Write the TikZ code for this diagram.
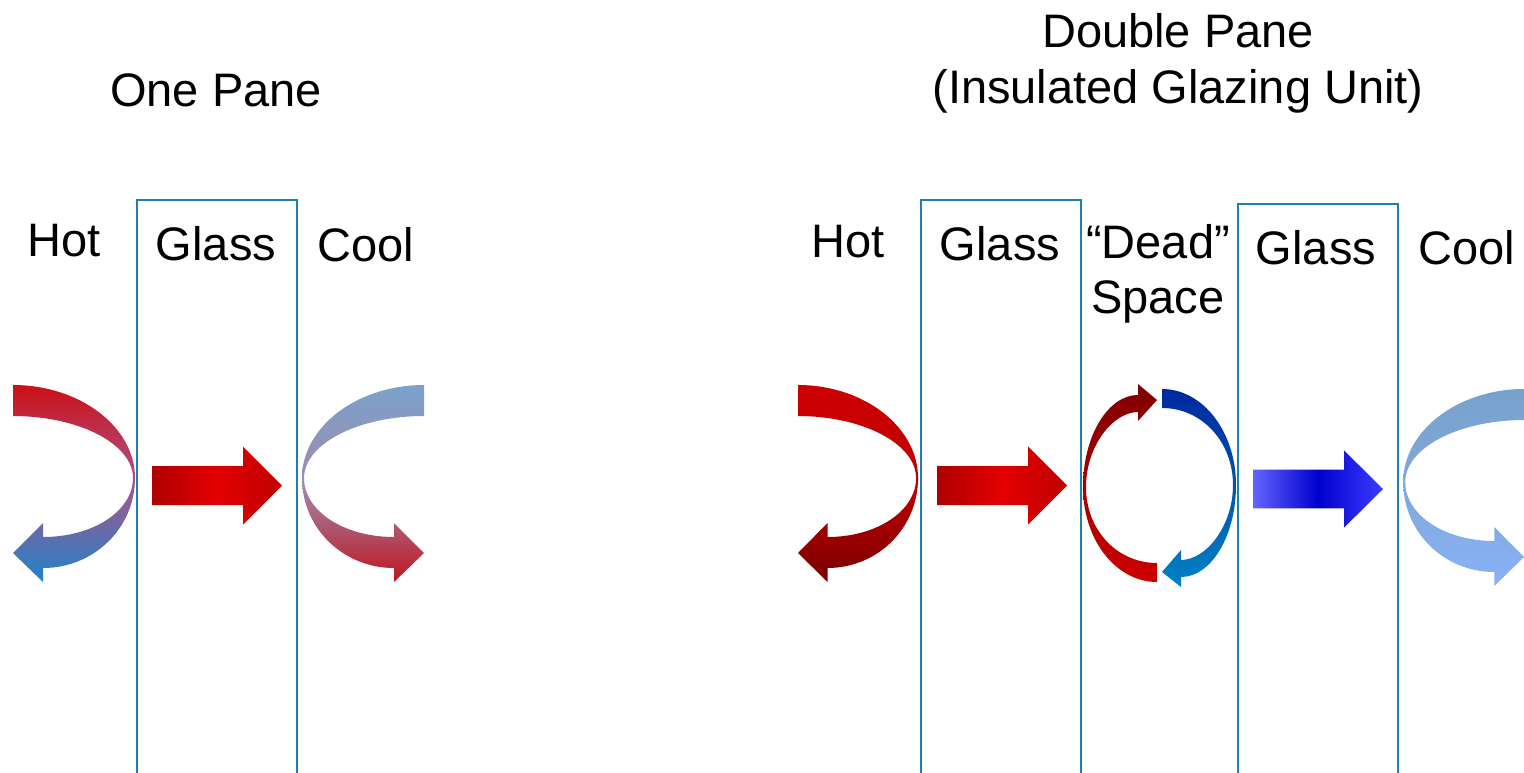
\documentclass[tikz,border=0pt]{standalone}
\usepackage{fontspec}
\setmainfont{Liberation Sans}
\definecolor{boxcol}{RGB}{30,128,176}
\definecolor{hotA}{RGB}{205,16,24}
\definecolor{hotB}{RGB}{168,84,140}
\definecolor{hotC}{RGB}{30,132,200}
\definecolor{coolA}{RGB}{122,162,204}
\definecolor{coolB}{RGB}{160,138,172}
\definecolor{coolC}{RGB}{192,20,32}
\definecolor{redA}{RGB}{205,0,0}
\definecolor{redB}{RGB}{190,0,0}
\definecolor{redC}{RGB}{122,0,0}
\definecolor{skyA}{RGB}{120,162,204}
\definecolor{skyB}{RGB}{128,168,220}
\definecolor{skyC}{RGB}{137,178,248}
\definecolor{srA}{RGB}{175,0,0}
\definecolor{srB}{RGB}{226,0,0}
\definecolor{srC}{RGB}{192,0,0}
\definecolor{sbA}{RGB}{100,100,255}
\definecolor{sbB}{RGB}{0,0,205}
\definecolor{sbC}{RGB}{60,60,255}
\definecolor{dsRedTop}{RGB}{128,0,0}
\definecolor{dsRedBot}{RGB}{204,0,0}
\definecolor{dsBlueTop}{RGB}{0,40,160}
\definecolor{dsBlueBot}{RGB}{0,130,195}
\newcommand\myuturn[1]{\shade[#1] (0,0) .. controls (67,0) and (122,-42) .. (122,-93)
  .. controls (122,-143) and (81,-183) .. (30,-183) -- (30,-197) -- (0,-168) -- (30,-138) -- (30,-152)
  .. controls (80,-152) and (120,-126) .. (120,-93) .. controls (120,-59) and (66,-31) .. (0,-31) -- cycle;}
\newcommand\mystraight[1]{\shade[#1] (0,19.5) -- (91,19.5) -- (91,39) -- (130,0) -- (91,-39) -- (91,-19.5) -- (0,-19.5) -- cycle;}
\tikzset{
  lbl/.style={inner sep=0pt, anchor=base, font=\fontsize{47}{56}\selectfont},
  glassbox/.style={draw=boxcol, line width=2pt}
}
\begin{document}
\begin{tikzpicture}[x=1pt,y=1pt]
\useasboundingbox (0,0) rectangle (1524,-772);
% boxes
\draw[glassbox] (137,-780) -- (137,-200) -- (297,-200) -- (297,-780);
\draw[glassbox] (921,-780) -- (921,-200) -- (1081,-200) -- (1081,-780);
\draw[glassbox] (1238,-780) -- (1238,-204) -- (1398,-204) -- (1398,-780);
% titles
\node[lbl] (t1) at (216,-106) {One Pane};
\node[lbl] (t2) at (1178,-47) {Double Pane};
\node[lbl] (t3) at (1178,-103) {(Insulated Glazing Unit)};
% labels one pane
\node[lbl] (hot1) at (64,-256) {Hot};
\node[lbl] (gl1) at (216,-260) {Glass};
\node[lbl] (cool1) at (366,-261) {Cool};
% labels double pane
\node[lbl] (hot2) at (848,-257) {Hot};
\node[lbl] (gl2) at (1000,-260) {Glass};
\node[lbl] (dead) at (1158,-258) {“Dead”};
\node[lbl] (space) at (1158,-313) {Space};
\node[lbl] (gl3) at (1316,-264) {Glass};
\node[lbl] (cool2) at (1467,-264) {Cool};
% curved arrows
\begin{scope}[shift={(13,-385)}]
  \myuturn{top color=hotA, bottom color=hotC, middle color=hotB}
\end{scope}
\begin{scope}[shift={(424,-385)}, xscale=-1]
  \myuturn{top color=coolA, bottom color=coolC, middle color=coolB}
\end{scope}
\begin{scope}[shift={(798,-385)}, xscale=0.984]
  \myuturn{top color=redA, bottom color=redC, middle color=redB}
\end{scope}
\begin{scope}[shift={(1524,-389)}, xscale=-0.99]
  \myuturn{top color=skyA, bottom color=skyC, middle color=skyB}
\end{scope}
% straight arrows
\begin{scope}[shift={(152,-485.5)}]
  \mystraight{left color=srA, right color=srC, middle color=srB}
\end{scope}
\begin{scope}[shift={(937,-485.5)}]
  \mystraight{left color=srA, right color=srC, middle color=srB}
\end{scope}
\begin{scope}[shift={(1253,-489)}, yscale=0.99]
  \mystraight{left color=sbA, right color=sbC, middle color=sbB}
\end{scope}
% dead space circulation
\shade[top color=dsRedTop, bottom color=dsRedBot]
  (1157,-582) .. controls (1116,-582) and (1083,-540) .. (1083,-487)
  .. controls (1083,-436) and (1108,-395) .. (1138,-395)
  -- (1138,-384) -- (1157,-400) -- (1138,-421) -- (1138,-412)
  .. controls (1113,-412) and (1086,-446) .. (1086,-487)
  .. controls (1086,-530) and (1117,-563) .. (1157,-563) -- cycle;
\shade[top color=dsBlueTop, bottom color=dsBlueBot]
  (1162,-389) .. controls (1203,-389) and (1236,-432) .. (1236,-485)
  .. controls (1236,-536) and (1211,-577) .. (1181,-577)
  -- (1181,-587) -- (1162,-572) -- (1181,-550) -- (1181,-560)
  .. controls (1206,-560) and (1233,-526) .. (1233,-485)
  .. controls (1233,-442) and (1202,-408) .. (1162,-408) -- cycle;
\end{tikzpicture}
\end{document}
